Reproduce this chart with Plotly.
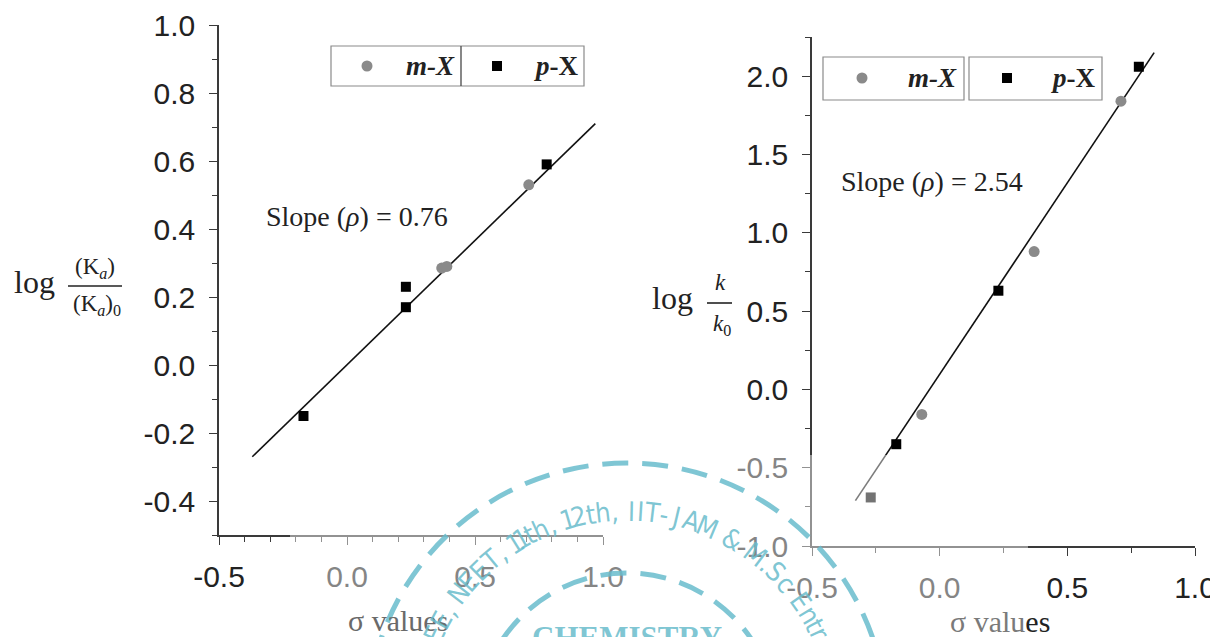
import plotly.graph_objects as go
import numpy as np

# Browser window size and the page's default body margin (8px) offset
W, H = 1218, 637
OFF = 8
FW, FH = W - OFF, H - OFF

# ---------------- data ----------------
# Left panel: log(Ka/Ka0) vs sigma
left_m_sigma = [0.37, 0.39, 0.71]
left_m_log = [0.285, 0.29, 0.53]
left_p_sigma = [-0.17, 0.23, 0.23, 0.78]
left_p_log = [-0.15, 0.23, 0.17, 0.59]
left_fit_sigma = [-0.37, 0.97]
left_fit_log = [-0.27, 0.71]
left_slope_text = "Slope (<i>ρ</i>) = 0.76"

# Right panel: log(k/k0) vs sigma
right_m_sigma = [-0.07, 0.37, 0.71]
right_m_log = [-0.16, 0.88, 1.84]
right_p_sigma = [-0.27, -0.17, 0.23, 0.78]
right_p_log = [-0.69, -0.35, 0.63, 2.06]
right_fit_sigma = [-0.33, 0.84]
right_fit_log = [-0.71, 2.15]
right_slope_text = "Slope (<i>ρ</i>) = 2.54"

left_xticks = [-0.5, 0.0, 0.5, 1.0]
left_yticks = [-0.4, -0.2, 0.0, 0.2, 0.4, 0.6, 0.8, 1.0]
right_xticks = [-0.5, 0.0, 0.5, 1.0]
right_yticks = [-1.0, -0.5, 0.0, 0.5, 1.0, 1.5, 2.0]

watermark_text = "JEE, NEET, 11th, 12th, IIT-JAM & M.Sc Entrance"
watermark_title = "CHEMISTRY"

# ---------------- helpers (screen pixel -> paper fraction) ----------------
def px(x):
    return (x - OFF) / FW

def py(y):
    return 1 - (y - OFF) / FH

SERIF = "Liberation Serif, Times New Roman, serif"
SANS = "Liberation Sans, Arial, sans-serif"
AX = "#3a3a3a"
GRAY_M = "#8a8a8a"

fig = go.Figure()

# left traces
fig.add_trace(go.Scatter(x=left_fit_sigma, y=left_fit_log, mode="lines",
                         line=dict(color="#111", width=1.6), xaxis="x", yaxis="y",
                         showlegend=False))
fig.add_trace(go.Scatter(x=left_m_sigma, y=left_m_log, mode="markers", name="m-X",
                         marker=dict(symbol="circle", size=11, color=GRAY_M),
                         xaxis="x", yaxis="y", showlegend=False))
fig.add_trace(go.Scatter(x=left_p_sigma, y=left_p_log, mode="markers", name="p-X",
                         marker=dict(symbol="square", size=10, color="#000"),
                         xaxis="x", yaxis="y", showlegend=False))
# right traces
fig.add_trace(go.Scatter(x=right_fit_sigma, y=right_fit_log, mode="lines",
                         line=dict(color="#111", width=1.6), xaxis="x2", yaxis="y2",
                         showlegend=False))
fig.add_trace(go.Scatter(x=right_m_sigma, y=right_m_log, mode="markers", name="m-X",
                         marker=dict(symbol="circle", size=11, color=GRAY_M),
                         xaxis="x2", yaxis="y2", showlegend=False))
fig.add_trace(go.Scatter(x=right_p_sigma, y=right_p_log, mode="markers", name="p-X",
                         marker=dict(symbol="square", size=10, color="#000"),
                         xaxis="x2", yaxis="y2", showlegend=False))

axis_common = dict(showgrid=False, zeroline=False, showline=True, linecolor=AX,
                   linewidth=1.6, ticks="outside", ticklen=8, tickwidth=1.4,
                   tickcolor=AX, tickfont=dict(family=SANS, size=30, color="#222"),
                   mirror=False, automargin=False)

fig.update_layout(
    template="none",
    width=FW, height=FH, autosize=False,
    margin=dict(l=0, r=0, t=0, b=0, pad=0, autoexpand=False),
    paper_bgcolor="white", plot_bgcolor="white",
    xaxis=dict(domain=[px(219), px(603)], range=[-0.5, 1.0], anchor="y",
               tickvals=left_xticks, ticktext=[f"{v:.1f}" for v in left_xticks],
               minor=dict(dtick=0.1, tick0=0, ticks="outside", ticklen=5,
                          tickcolor=AX, tickwidth=1.2),
               ticklabelstandoff=6, **axis_common),
    yaxis=dict(domain=[py(535), py(25)], range=[-0.5, 1.0], anchor="x",
               tickvals=left_yticks, ticktext=[f"{v:.1f}" for v in left_yticks],
               minor=dict(dtick=0.1, tick0=0, ticks="outside", ticklen=5,
                          tickcolor=AX, tickwidth=1.2),
               ticklabelstandoff=8, **axis_common),
    xaxis2=dict(domain=[px(812), px(1195)], range=[-0.5, 1.0], anchor="y2",
                tickvals=right_xticks, ticktext=[f"{v:.1f}" for v in right_xticks],
                minor=dict(dtick=0.25, tick0=0, ticks="outside", ticklen=5,
                           tickcolor=AX, tickwidth=1.2),
                ticklabelstandoff=6, **axis_common),
    yaxis2=dict(domain=[py(546), py(37)], range=[-1.0, 2.25], anchor="x2",
                tickvals=right_yticks, ticktext=[f"{v:.1f}" for v in right_yticks],
                minor=dict(dtick=0.25, tick0=0, ticks="outside", ticklen=5,
                           tickcolor=AX, tickwidth=1.2),
                ticklabelstandoff=8, **axis_common),
)

shapes = []
annos = []

def text(x, y, s, size=28, family=SERIF, color="#222", xanchor="center", yanchor="middle", angle=0):
    annos.append(dict(x=px(x), y=py(y), xref="paper", yref="paper", text=s,
                      showarrow=False, xanchor=xanchor, yanchor=yanchor, textangle=angle,
                      font=dict(family=family, size=size, color=color)))

def box(x0, y0, x1, y1, color="#8a8a8a", width=1.2):
    shapes.append(dict(type="rect", xref="paper", yref="paper", x0=px(x0), x1=px(x1),
                       y0=py(y1), y1=py(y0), line=dict(color=color, width=width),
                       fillcolor="rgba(0,0,0,0)", layer="above"))

def legend_circle(cx, cy, d, color):
    shapes.append(dict(type="circle", xref="paper", yref="paper", x0=px(cx - d / 2), x1=px(cx + d / 2),
                       y0=py(cy + d / 2), y1=py(cy - d / 2), line=dict(width=0), fillcolor=color,
                       layer="above"))

def legend_square(cx, cy, d, color):
    shapes.append(dict(type="rect", xref="paper", yref="paper", x0=px(cx - d / 2), x1=px(cx + d / 2),
                       y0=py(cy + d / 2), y1=py(cy - d / 2), line=dict(width=0), fillcolor=color,
                       layer="above"))

def hline(x0, x1, y, color="#222", width=1.6):
    shapes.append(dict(type="line", xref="paper", yref="paper", x0=px(x0), x1=px(x1),
                       y0=py(y), y1=py(y), line=dict(color=color, width=width), layer="above"))

# ---- left legend (single box with divider) ----
box(331, 46, 584, 86)
shapes.append(dict(type="line", xref="paper", yref="paper", x0=px(461), x1=px(461),
                   y0=py(86), y1=py(46), line=dict(color="#555", width=1.4), layer="above"))
legend_circle(367, 66, 11, GRAY_M)
text(430, 66, "<b><i>m-X</i></b>", size=27)
legend_square(497, 66, 10, "#000")
text(556, 66, "<b><i>p</i>-X</b>", size=27)

# ---- right legend (two boxes) ----
box(823, 57, 964, 100)
box(969, 57, 1102, 100)
legend_circle(862, 78, 11, GRAY_M)
text(932, 78, "<b><i>m-X</i></b>", size=27)
legend_square(1007, 78, 10, "#000")
text(1073, 78, "<b><i>p</i>-X</b>", size=27)

# ---- slope texts ----
text(357, 217, left_slope_text, size=28)
text(932, 182, right_slope_text, size=28)

# ---- axis titles ----
text(398, 620, "σ values", size=30, color="#6a6a6a")
text(1000, 621, '<span style="color:#7a7a7a">σ valu</span>es', size=30, color="#222")

# left y title: log (Ka)/(Ka)0
text(34, 282, "log", size=32)
hline(68, 122, 286)
text(95, 268, "(K<sub><i>a</i></sub>)", size=23)
text(97, 305, "(K<sub><i>a</i></sub>)<sub>0</sub>", size=23)

# right y title: log k/k0
text(672, 298, "log", size=32)
hline(707, 732, 303)
text(720, 282, "<i>k</i>", size=23)
text(722, 325, "<i>k</i><sub>0</sub>", size=23)

# ---- watermark ----
shapes.append(dict(type="rect", xref="paper", yref="paper", x0=px(290), x1=px(1028),
                   y0=py(645), y1=py(455), line=dict(width=0),
                   fillcolor="rgba(255,255,255,0.45)", layer="above"))
WM = "rgba(105,188,204,0.85)"
cx, cy = 627, 723
for r in (260, 150):
    shapes.append(dict(type="circle", xref="paper", yref="paper",
                       x0=px(cx - r), x1=px(cx + r), y0=py(cy + r), y1=py(cy - r),
                       line=dict(color=WM, width=5, dash="26px,14px"), layer="above"))

# curved watermark text: proportional character advance along the arc
narrow = set("I1lt.,-")
wide = {"M": 1.3, "&": 1.2, " ": 0.5, "r": 0.7}
pos = 0.0
centers = []
for ch in watermark_text:
    w = 0.55 if ch in narrow else wide.get(ch, 1.0)
    centers.append(pos + w / 2)
    pos += w
rr = 212
for ch, c in zip(watermark_text, centers):
    if ch == " ":
        continue
    th = -44.6 + (c - 6.4) * 4.23
    t = np.radians(th)
    x = cx + rr * np.sin(t)
    y = cy - rr * np.cos(t)
    if y > 640:
        continue
    text(x, y, ch, size=27, family="Liberation Sans Narrow, DejaVu Sans Condensed, Roboto Condensed, Roboto",
         color=WM, angle=th)
text(627, 618, f"<b>{watermark_title}</b>", size=31, color=WM, yanchor="top")

fig.update_layout(shapes=shapes, annotations=annos)
fig.write_html("out.html")
